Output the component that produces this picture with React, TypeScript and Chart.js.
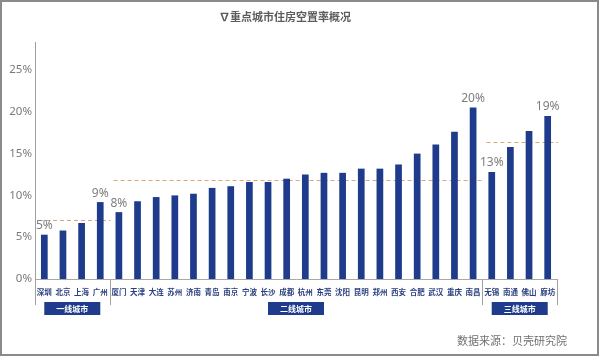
import React, { useEffect, useRef } from "react";
import { Chart, registerables } from "chart.js";
Chart.register(...registerables);

const cities = [
  "深圳", "北京", "上海", "广州",
  "厦门", "天津", "大连", "苏州", "济南", "青岛", "南京", "宁波", "长沙", "成都",
  "杭州", "东莞", "沈阳", "昆明", "郑州", "西安", "合肥", "武汉", "重庆", "南昌",
  "无锡", "南通", "佛山", "廊坊",
];
const vacancyRates = [
  5.3, 5.8, 6.7, 9.2,
  8.0, 9.3, 9.8, 10.0, 10.2, 10.9, 11.1, 11.6, 11.6, 12.0,
  12.5, 12.7, 12.7, 13.2, 13.2, 13.7, 15.0, 16.1, 17.6, 20.5,
  12.8, 15.8, 17.7, 19.5,
];
const barLabels = [
  "5%", "", "", "9%",
  "8%", "", "", "", "", "", "", "", "", "",
  "", "", "", "", "", "", "", "", "", "20%",
  "13%", "", "", "19%",
];
const tierNames = ["一线城市", "二线城市", "三线城市"];
const tierSizes = [4, 20, 4];
const tierAverages = [7.0, 11.8, 16.4];
const yTicks = [0, 5, 10, 15, 20, 25];
const yMax = 28.35;
const titleText = "∇重点城市住房空置率概况";
const sourceText = "数据来源：贝壳研究院";

const CJK = '"Noto Sans CJK SC", "Noto Sans", sans-serif';
const NUM = '"Noto Sans", "Noto Sans CJK SC", sans-serif';
const BAR = "#1f3c8c";

const overlay = {
  id: "overlay",
  beforeDatasetsDraw(chart: any) {
    const { ctx } = chart;
    const xs = chart.scales.x;
    const ys = chart.scales.y;
    const step = xs.getPixelForValue(1) - xs.getPixelForValue(0);
    ctx.save();
    ctx.strokeStyle = "#d8a878";
    ctx.lineWidth = 1;
    ctx.setLineDash([4, 3]);
    let start = 0;
    tierSizes.forEach((n, i) => {
      const x0 = xs.getPixelForValue(start) - step / 2;
      const x1 = xs.getPixelForValue(start + n - 1) + step / 2;
      const yy = Math.round(ys.getPixelForValue(tierAverages[i])) + 0.5;
      ctx.beginPath();
      ctx.moveTo(x0 + 4, yy);
      ctx.lineTo(x1 + 1, yy);
      ctx.stroke();
      start += n;
    });
    ctx.restore();
  },
  afterDatasetsDraw(chart: any) {
    const { ctx } = chart;
    const meta = chart.getDatasetMeta(0);
    ctx.save();
    ctx.fillStyle = "#7d7d7d";
    ctx.font = `12px ${NUM}`;
    ctx.textAlign = "center";
    ctx.textBaseline = "middle";
    meta.data.forEach((el: any, i: number) => {
      if (barLabels[i]) ctx.fillText(barLabels[i], el.x, el.y - 9);
    });
    ctx.restore();
  },
  afterDraw(chart: any) {
    const { ctx, chartArea } = chart;
    const xs = chart.scales.x;
    const step = xs.getPixelForValue(1) - xs.getPixelForValue(0);
    const axisY = chartArea.bottom;
    ctx.save();
    // city labels
    ctx.fillStyle = "#2a3f7e";
    ctx.font = `bold 7.5px ${CJK}`;
    ctx.textAlign = "center";
    ctx.textBaseline = "middle";
    cities.forEach((c, i) => ctx.fillText(c, xs.getPixelForValue(i), axisY + 13.5));
    // separators
    ctx.strokeStyle = "#a0a0a0";
    ctx.lineWidth = 1;
    const bounds: number[] = [xs.getPixelForValue(0) - step / 2];
    let start = 0;
    tierSizes.forEach((n) => {
      bounds.push(xs.getPixelForValue(start + n - 1) + step / 2);
      start += n;
    });
    bounds.forEach((bx) => {
      const px = Math.round(bx) + 0.5;
      ctx.beginPath();
      ctx.moveTo(px, axisY);
      ctx.lineTo(px, axisY + 26);
      ctx.stroke();
    });
    // group boxes
    tierNames.forEach((name, i) => {
      const cx = (bounds[i] + bounds[i + 1]) / 2;
      ctx.fillStyle = BAR;
      ctx.fillRect(cx - 28, axisY + 23, 56, 13);
      ctx.fillStyle = "#ffffff";
      ctx.font = `bold 8px ${CJK}`;
      ctx.fillText(name, cx, axisY + 29.5);
    });
    // title
    ctx.fillStyle = "#5c5c5c";
    ctx.font = `bold 11px ${CJK}`;
    ctx.textAlign = "center";
    ctx.fillText(titleText, 285, 17);
    // source
    ctx.fillStyle = "#707070";
    ctx.font = `11px ${CJK}`;
    ctx.textAlign = "right";
    ctx.fillText(sourceText, 567, 341);
    // frame
    ctx.strokeStyle = "#8a8a8a";
    ctx.lineWidth = 2;
    ctx.strokeRect(1, 1, 597, 354);
    ctx.restore();
  },
};

export default function App() {
  const ref = useRef<HTMLCanvasElement>(null);
  useEffect(() => {
    if (!ref.current) return;
    const chart = new Chart(ref.current, {
      type: "bar",
      data: {
        labels: cities,
        datasets: [
          {
            data: vacancyRates,
            backgroundColor: BAR,
            barPercentage: 0.36,
            categoryPercentage: 1,
          },
        ],
      },
      options: {
        responsive: false,
        animation: false,
        layout: { padding: { left: 0, right: 43, top: 42, bottom: 78 } },
        plugins: { legend: { display: false }, tooltip: { enabled: false }, title: { display: false } },
        scales: {
          x: {
            grid: { display: false, drawTicks: false },
            border: { display: true, color: "#a8a8a8" },
            ticks: { display: false },
            afterFit: (s: any) => { s.height = 0; },
          },
          y: {
            min: 0,
            max: yMax,
            grid: { display: false, drawTicks: false },
            border: { display: true, color: "#a0a0a0" },
            afterBuildTicks: (s: any) => { s.ticks = yTicks.map((v) => ({ value: v })); },
            afterFit: (s: any) => { s.width = 35; },
            ticks: {
              padding: 3,
              color: "#7a7a7a",
              font: { family: NUM, size: 11.5 },
              callback: (v: any) => `${v}%`,
            },
          },
        },
      },
      plugins: [overlay],
    });
    return () => chart.destroy();
  }, []);
  return (
    <div style={{ position: "fixed", left: 0, top: 0, width: 600, height: 357, background: "#fff" }}>
      <canvas ref={ref} width={600} height={357} />
    </div>
  );
}
